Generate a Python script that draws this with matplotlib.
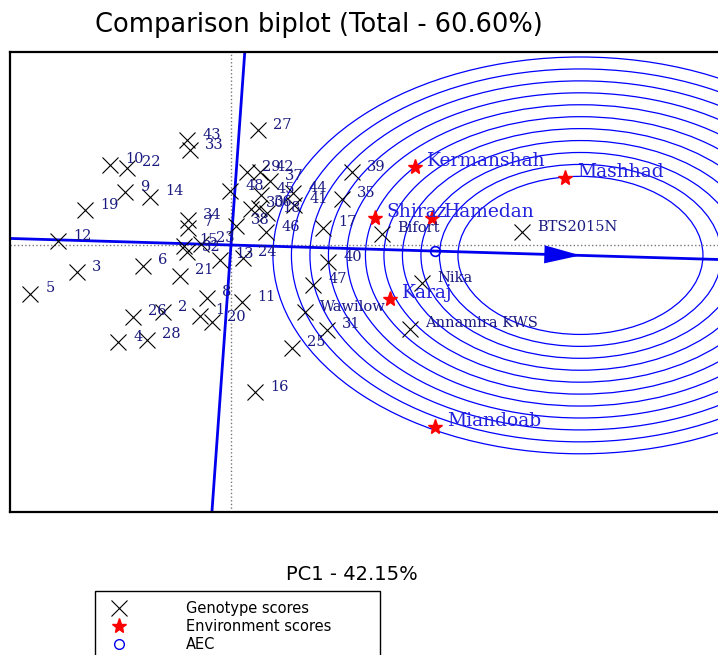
import matplotlib
matplotlib.use("Agg")
import matplotlib.pyplot as plt
from matplotlib.lines import Line2D
from matplotlib.patches import Circle
import numpy as np

# genotype scores (PC1, PC2)
gen_names = ['1', '2', '3', '4', '5', '6', '7', '8', '9', '10',
             '11', '12', '13', '14', '15', '16', '17', '18', '19', '20',
             '21', '22', '23', '24', '25', '26', '27', '28', '29', '30',
             '31', '32', '33', '34', '35', '36', '37', '38', '39', '40',
             '41', '42', '43', '44', '45', '46', '47', '48',
             'Wawilow', 'Bifort', 'Nika', 'Annamira KWS', 'BTS2015N']
gen_pc1 = [-0.62, -1.36, -3.08, -2.26, -4.02, -1.76, -0.86, -0.48, -2.12, -2.42,
           0.22, -3.46, -0.22, -1.62, -0.94, 0.48, 1.84, 0.72, -2.92, -0.38,
           -1.02, -2.08, -0.60, 0.24, 1.22, -1.96, 0.54, -1.68, 0.32, 0.40,
           1.92, -0.88, -0.82, -0.86, 2.22, 0.56, 0.78, 0.10, 2.42, 1.94,
           1.26, 0.58, -0.88, 1.24, 0.60, 0.70, 1.64, -0.02,
           1.48, 3.02, 3.82, 3.58, 5.82]
gen_pc2 = [-2.20, -2.08, -0.84, -3.01, -1.52, -0.65, 0.53, -1.64, 1.64, 2.48,
           -1.77, 0.12, -0.46, 1.49, -0.03, -4.56, 0.53, 0.99, 1.08, -2.39,
           -0.96, 2.39, 0.03, -0.40, -3.19, -2.23, 3.56, -2.94, 2.26, 1.12,
           -2.63, -0.22, 2.94, 0.77, 1.43, 1.15, 1.98, 0.59, 2.26, -0.53,
           1.24, 2.26, 3.25, 1.61, 1.55, 0.40, -1.24, 1.67,
           -2.08, 0.34, -1.18, -2.60, 0.40]

# environment scores
env_names = ['Kermanshah', 'Mashhad', 'Shiraz', 'Hamedan', 'Karaj', 'Miandoab']
env_pc1 = [3.68, 6.68, 2.88, 4.02, 3.18, 4.08]
env_pc2 = [2.42, 2.08, 0.84, 0.84, -1.67, -5.64]

# concentric rings around the ideal environment
ring_radii = [2.45, 2.82, 3.19, 3.56, 3.93, 4.30, 4.67, 5.04, 5.41, 5.78, 6.15]

# average environment coordinate and ideal environment
aec_x = np.mean(env_pc1)
aec_y = np.mean(env_pc2)
max_len = max(np.hypot(env_pc1, env_pc2))
aec_len = np.hypot(aec_x, aec_y)
ideal_x = aec_x / aec_len * max_len
ideal_y = aec_y / aec_len * max_len

fig = plt.figure(figsize=(7.18, 6.55), dpi=100)
ax = fig.add_axes([0.0139, 0.2183, 0.9903, 0.7023])
ax.set_xlim(-4.42, 9.80)
ax.set_ylim(-8.277, 5.983)
ax.set_xticks([])
ax.set_yticks([])
for s in ax.spines.values():
    s.set_linewidth(1.6)

# dotted reference axes
ax.axhline(0, color='#777777', ls=':', lw=1)
ax.axvline(0, color='#777777', ls=':', lw=1)

# AEC axis and its perpendicular
ax.axline((0, 0), (aec_x, aec_y), color='#0000ee', lw=2)
ax.axline((0, 0), (-aec_y, aec_x), color='#0000ee', lw=2)

for r in ring_radii:
    ax.add_patch(Circle((ideal_x, ideal_y), r, fill=False, ec='#0000ff', lw=0.9))

back = 0.72
ax.annotate('', xy=(ideal_x, ideal_y),
            xytext=(ideal_x - back * aec_x / aec_len, ideal_y - back * aec_y / aec_len),
            arrowprops=dict(arrowstyle='-|>,head_length=2.6,head_width=0.65',
                            mutation_scale=10, color='#0000ee', lw=0,
                            shrinkA=0, shrinkB=0))

# genotypes
ax.plot(gen_pc1, gen_pc2, 'x', color='black', ms=12, mew=0.8)
for n, x, y in zip(gen_names, gen_pc1, gen_pc2):
    ax.annotate(n, (x, y), xytext=(11, 4), textcoords='offset points',
                ha='left', va='center', fontsize=10.5, family='DejaVu Serif',
                color='#1a1a80')

# environments
ax.plot(env_pc1, env_pc2, '*', color='red', ms=11, mec='red')
for n, x, y in zip(env_names, env_pc1, env_pc2):
    ax.annotate(n, (x, y), xytext=(8.5, 4.5), textcoords='offset points',
                ha='left', va='center', fontsize=13.5, family='DejaVu Serif',
                color='#2222dd')

ax.plot(aec_x, aec_y, 'o', ms=7, mfc='none', mec='#0000ee', mew=1.2)

fig.text(319 / 718, 1 - 25 / 655, 'Comparison biplot (Total - 60.60%)',
         ha='center', va='center', fontsize=18.5, family='DejaVu Sans')
fig.text(352 / 718, 1 - 575 / 655, 'PC1 - 42.15%',
         ha='center', va='center', fontsize=14, family='DejaVu Sans')

handles = [Line2D([], [], ls='none', marker='x', color='black', ms=11, mew=0.8),
           Line2D([], [], ls='none', marker='*', color='red', ms=11),
           Line2D([], [], ls='none', marker='o', mfc='none', mec='#0000ee', ms=7)]
leg = fig.legend(handles, ['Genotype scores', 'Environment scores', 'AEC'],
                 loc='upper left', bbox_to_anchor=(95 / 718, 1 - 598 / 655, 285 / 718, 0.01),
                 mode='expand', borderaxespad=0, borderpad=0.65, handlelength=2.0,
                 handletextpad=3.6, labelspacing=0.22, fancybox=False,
                 edgecolor='black', framealpha=1, prop={'family': 'DejaVu Sans', 'size': 10.5})
leg.get_frame().set_linewidth(1.0)

fig.savefig('out.png', dpi=100)
